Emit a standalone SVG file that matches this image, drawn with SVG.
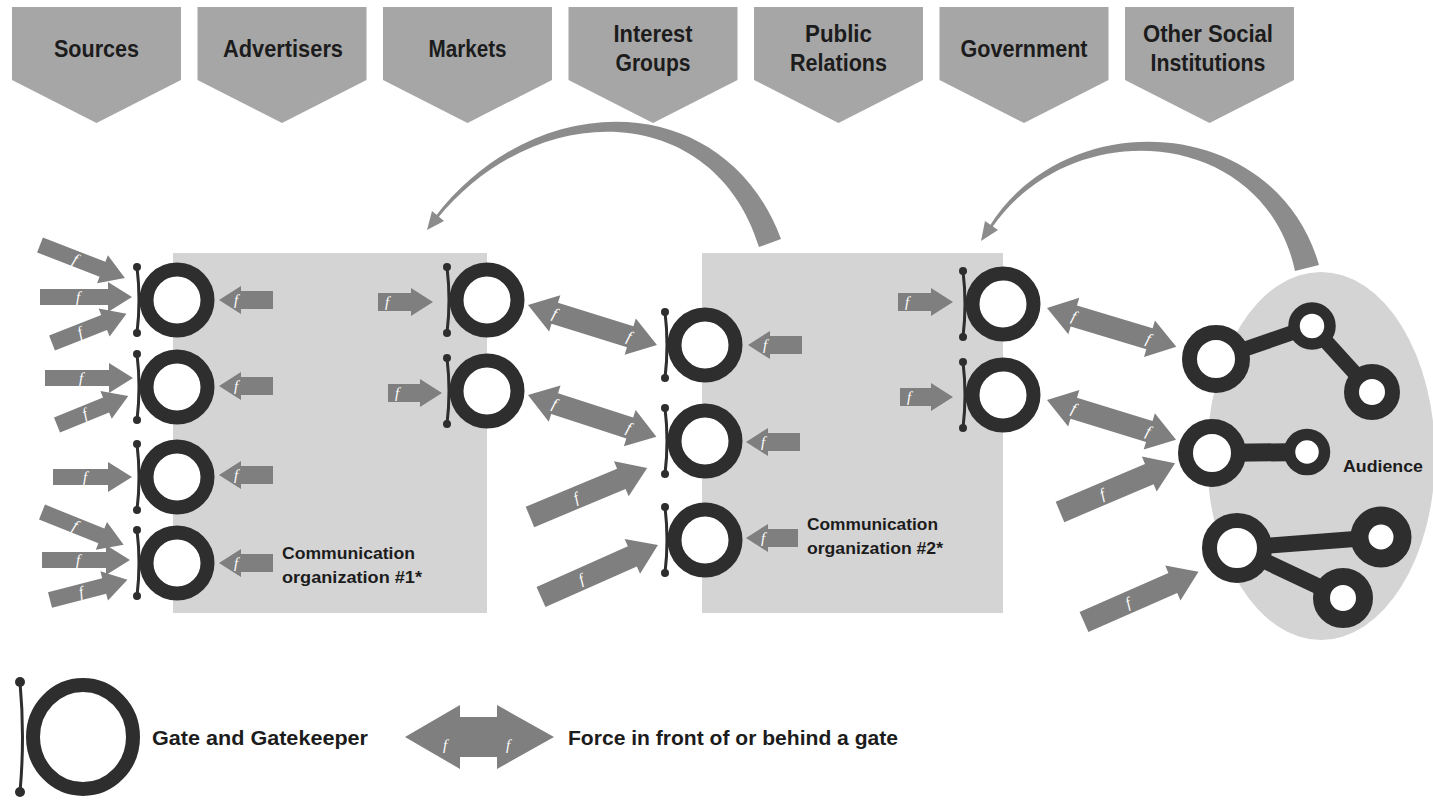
<svg xmlns="http://www.w3.org/2000/svg" width="1433" height="800" viewBox="0 0 1433 800">
  <style>
    .banner { fill: #a6a6a6; }
    .btxt { font-family: "Liberation Sans", Arial, sans-serif; font-weight: bold; font-size: 23px; fill: #1c1c1c; text-anchor: middle; }
    .org { fill: #d4d4d4; }
    .arrow { fill: #7f7f7f; }
    .curve { fill: #8c8c8c; }
    .f { font-family: "Liberation Serif", serif; font-style: italic; font-size: 15px; fill: #ffffff; text-anchor: middle; }
    .ring { fill: #ffffff; stroke: #2e2e2e; stroke-width: 14; }
    .bracket { fill: none; stroke: #2e2e2e; stroke-width: 3; }
    .dot { fill: #2e2e2e; }
    .link { fill: none; stroke: #2e2e2e; stroke-linecap: round; }
    .node { fill: #ffffff; stroke: #2e2e2e; }
    .lbl { font-family: "Liberation Sans", Arial, sans-serif; font-weight: bold; font-size: 17px; fill: #1c1c1c; }
    .legend { font-family: "Liberation Sans", Arial, sans-serif; font-weight: bold; font-size: 21px; fill: #1c1c1c; }
  </style>

  <!-- outside forces: pentagon banners -->
  <g id="banner-sources">
    <path class="banner" d="M12,7H181V80L96.5,123L12,80Z"/>
    <text class="btxt" x="96.5" y="57" textLength="85" lengthAdjust="spacingAndGlyphs">Sources</text>
  </g>
  <g id="banner-advertisers">
    <path class="banner" d="M197.5,7H366.5V80L282,123L197.5,80Z"/>
    <text class="btxt" x="283" y="57" textLength="120" lengthAdjust="spacingAndGlyphs">Advertisers</text>
  </g>
  <g id="banner-markets">
    <path class="banner" d="M383,7H552V80L467.5,123L383,80Z"/>
    <text class="btxt" x="467.5" y="57" textLength="78" lengthAdjust="spacingAndGlyphs">Markets</text>
  </g>
  <g id="banner-interest-groups">
    <path class="banner" d="M568.5,7H737.5V80L653,123L568.5,80Z"/>
    <text class="btxt" x="653" y="42" textLength="79" lengthAdjust="spacingAndGlyphs">Interest</text>
    <text class="btxt" x="653" y="71" textLength="75" lengthAdjust="spacingAndGlyphs">Groups</text>
  </g>
  <g id="banner-public-relations">
    <path class="banner" d="M754,7H923V80L838.5,123L754,80Z"/>
    <text class="btxt" x="838.5" y="42" textLength="67" lengthAdjust="spacingAndGlyphs">Public</text>
    <text class="btxt" x="838.5" y="71" textLength="97" lengthAdjust="spacingAndGlyphs">Relations</text>
  </g>
  <g id="banner-government">
    <path class="banner" d="M939.5,7H1108.5V80L1024,123L939.5,80Z"/>
    <text class="btxt" x="1024" y="57" textLength="127" lengthAdjust="spacingAndGlyphs">Government</text>
  </g>
  <g id="banner-other">
    <path class="banner" d="M1125,7H1294V80L1209.5,123L1125,80Z"/>
    <text class="btxt" x="1208" y="42" textLength="130" lengthAdjust="spacingAndGlyphs">Other Social</text>
    <text class="btxt" x="1208" y="71" textLength="115" lengthAdjust="spacingAndGlyphs">Institutions</text>
  </g>

  <!-- organisations and audience backgrounds -->
  <g id="org-1">
    <rect class="org" x="173" y="253" width="314" height="360"/>
    <text class="lbl" x="282" y="559" textLength="133" lengthAdjust="spacingAndGlyphs">Communication</text>
    <text class="lbl" x="282" y="583" textLength="140" lengthAdjust="spacingAndGlyphs">organization #1*</text>
  </g>
  <g id="org-2">
    <rect class="org" x="702" y="253" width="301" height="360"/>
    <text class="lbl" x="807" y="530" textLength="131" lengthAdjust="spacingAndGlyphs">Communication</text>
    <text class="lbl" x="807" y="554" textLength="136" lengthAdjust="spacingAndGlyphs">organization #2*</text>
  </g>
  <g id="audience-area">
    <ellipse class="org" cx="1321" cy="456" rx="114" ry="184"/>
  </g>

  <!-- connectors: feedback curves and forces -->
  <g id="connectors">
    <path class="curve" d="M781,239C725,88 536,85 435,217L437,219C538,95 715,102 759,247Z"/>
    <polygon class="curve" points="427,230 444,221 432,211"/>
    <path class="curve" d="M1319,265C1276,114 1066,102 989,227L991,229C1070,112 1264,126 1295,271Z"/>
    <polygon class="curve" points="981,241 998,230 985,221"/>

    <!-- forces in front of the first gates -->
    <g transform="translate(40,245) rotate(21.2)"><path class="arrow" d="M0,-8H67V-15L91,0L67,15V8H0Z"/><text class="f" x="38" y="5">f</text></g>
    <g transform="translate(40,297)"><path class="arrow" d="M0,-8H68V-15L92,0L68,15V8H0Z"/><text class="f" x="38" y="5">f</text></g>
    <g transform="translate(52,343) rotate(-21.4)"><path class="arrow" d="M0,-8H56V-15L80,0L56,15V8H0Z"/><text class="f" x="30" y="5">f</text></g>
    <g transform="translate(45,378)"><path class="arrow" d="M0,-8H64V-15L88,0L64,15V8H0Z"/><text class="f" x="36" y="5">f</text></g>
    <g transform="translate(57,425) rotate(-22.2)"><path class="arrow" d="M0,-8H53V-15L77,0L53,15V8H0Z"/><text class="f" x="30" y="5">f</text></g>
    <g transform="translate(53,477)"><path class="arrow" d="M0,-8H55V-15L79,0L55,15V8H0Z"/><text class="f" x="32" y="5">f</text></g>
    <g transform="translate(42,512) rotate(21.9)"><path class="arrow" d="M0,-8H64V-15L88,0L64,15V8H0Z"/><text class="f" x="36" y="5">f</text></g>
    <g transform="translate(42,560)"><path class="arrow" d="M0,-8H64V-15L88,0L64,15V8H0Z"/><text class="f" x="36" y="5">f</text></g>
    <g transform="translate(50,600) rotate(-14.6)"><path class="arrow" d="M0,-8H56V-15L80,0L56,15V8H0Z"/><text class="f" x="32" y="5">f</text></g>

    <!-- forces behind the first gates -->
    <path class="arrow" d="M273,291H241V286L219,300L241,314V309H273Z"/><text class="f" x="236" y="305">f</text>
    <path class="arrow" d="M273,377H241V372L219,386L241,400V395H273Z"/><text class="f" x="236" y="391">f</text>
    <path class="arrow" d="M273,466H241V461L219,475L241,489V484H273Z"/><text class="f" x="236" y="480">f</text>
    <path class="arrow" d="M273,554H241V549L219,563L241,577V572H273Z"/><text class="f" x="236" y="568">f</text>

    <!-- forces inside organisation 1 -->
    <path class="arrow" d="M378,293H411V288L433,302L411,316V311H378Z"/><text class="f" x="387" y="307">f</text>
    <path class="arrow" d="M388,384H420V379L442,393L420,407V402H388Z"/><text class="f" x="397" y="398">f</text>

    <!-- two-way forces between organisations -->
    <g transform="translate(528,305) rotate(17.2)"><path class="arrow" d="M0,0L28,-19V-11H107V-19L135,0L107,19V11H28V19Z"/><text class="f" x="28" y="5">f</text><text class="f" x="106" y="5">f</text></g>
    <g transform="translate(528,395) rotate(18)"><path class="arrow" d="M0,0L28,-19V-11H107V-19L135,0L107,19V11H28V19Z"/><text class="f" x="28" y="5">f</text><text class="f" x="106" y="5">f</text></g>

    <!-- forces in front of the second organisation -->
    <g transform="translate(530,517) rotate(-22.7)"><path class="arrow" d="M0,-11H99V-19L127,0L99,19V11H0Z"/><text class="f" x="50" y="5">f</text></g>
    <g transform="translate(541,597) rotate(-24)"><path class="arrow" d="M0,-11H100V-19L128,0L100,19V11H0Z"/><text class="f" x="44" y="5">f</text></g>

    <!-- forces behind the middle gates -->
    <path class="arrow" d="M802,336H770V331L748,345L770,359V354H802Z"/><text class="f" x="765" y="350">f</text>
    <path class="arrow" d="M800,433H768V428L746,442L768,456V451H800Z"/><text class="f" x="763" y="447">f</text>
    <path class="arrow" d="M798,529H768V524L746,538L768,552V547H798Z"/><text class="f" x="763" y="543">f</text>

    <!-- forces inside organisation 2 -->
    <path class="arrow" d="M898,293H931V288L953,302L931,316V311H898Z"/><text class="f" x="907" y="307">f</text>
    <path class="arrow" d="M900,388H931V383L953,397L931,411V406H900Z"/><text class="f" x="909" y="402">f</text>

    <!-- two-way forces with the audience -->
    <g transform="translate(1047,308) rotate(16.7)"><path class="arrow" d="M0,0L28,-19V-11H107V-19L135,0L107,19V11H28V19Z"/><text class="f" x="28" y="5">f</text><text class="f" x="106" y="5">f</text></g>
    <g transform="translate(1047,400) rotate(17.1)"><path class="arrow" d="M0,0L28,-19V-11H107V-19L135,0L107,19V11H28V19Z"/><text class="f" x="28" y="5">f</text><text class="f" x="106" y="5">f</text></g>

    <!-- forces in front of the audience -->
    <g transform="translate(1060,512) rotate(-23)"><path class="arrow" d="M0,-11H97V-19L125,0L97,19V11H0Z"/><text class="f" x="46" y="5">f</text></g>
    <g transform="translate(1084,622) rotate(-23.7)"><path class="arrow" d="M0,-11H97V-19L125,0L97,19V11H0Z"/><text class="f" x="48" y="5">f</text></g>
  </g>

  <!-- gates of organisation 1 (entry) -->
  <g id="gate-1a"><path class="bracket" d="M137,267Q141,300 137,333"/><circle class="dot" cx="137" cy="267" r="4"/><circle class="dot" cx="137" cy="333" r="4"/><circle class="ring" cx="177" cy="300" r="30.5"/></g>
  <g id="gate-1b"><path class="bracket" d="M137,354Q141,387 137,420"/><circle class="dot" cx="137" cy="354" r="4"/><circle class="dot" cx="137" cy="420" r="4"/><circle class="ring" cx="177" cy="387" r="30.5"/></g>
  <g id="gate-1c"><path class="bracket" d="M137,444Q141,477 137,510"/><circle class="dot" cx="137" cy="444" r="4"/><circle class="dot" cx="137" cy="510" r="4"/><circle class="ring" cx="177" cy="477" r="30.5"/></g>
  <g id="gate-1d"><path class="bracket" d="M137,530Q141,563 137,596"/><circle class="dot" cx="137" cy="530" r="4"/><circle class="dot" cx="137" cy="596" r="4"/><circle class="ring" cx="177" cy="563" r="30.5"/></g>

  <!-- gates of organisation 1 (exit) -->
  <g id="gate-1e"><path class="bracket" d="M447,267Q451,300 447,333"/><circle class="dot" cx="447" cy="267" r="4"/><circle class="dot" cx="447" cy="333" r="4"/><circle class="ring" cx="487" cy="300" r="30.5"/></g>
  <g id="gate-1f"><path class="bracket" d="M447,358Q451,391 447,424"/><circle class="dot" cx="447" cy="358" r="4"/><circle class="dot" cx="447" cy="424" r="4"/><circle class="ring" cx="487" cy="391" r="30.5"/></g>

  <!-- gates of organisation 2 (entry) -->
  <g id="gate-2a"><path class="bracket" d="M665,312Q669,345 665,378"/><circle class="dot" cx="665" cy="312" r="4"/><circle class="dot" cx="665" cy="378" r="4"/><circle class="ring" cx="705" cy="345" r="30.5"/></g>
  <g id="gate-2b"><path class="bracket" d="M665,408Q669,441 665,474"/><circle class="dot" cx="665" cy="408" r="4"/><circle class="dot" cx="665" cy="474" r="4"/><circle class="ring" cx="705" cy="441" r="30.5"/></g>
  <g id="gate-2c"><path class="bracket" d="M665,507Q669,540 665,573"/><circle class="dot" cx="665" cy="507" r="4"/><circle class="dot" cx="665" cy="573" r="4"/><circle class="ring" cx="705" cy="540" r="30.5"/></g>

  <!-- gates of organisation 2 (exit) -->
  <g id="gate-2d"><path class="bracket" d="M963,271Q967,304 963,337"/><circle class="dot" cx="963" cy="271" r="4"/><circle class="dot" cx="963" cy="337" r="4"/><circle class="ring" cx="1003" cy="304" r="30.5"/></g>
  <g id="gate-2e"><path class="bracket" d="M963,362Q967,395 963,428"/><circle class="dot" cx="963" cy="362" r="4"/><circle class="dot" cx="963" cy="428" r="4"/><circle class="ring" cx="1003" cy="395" r="30.5"/></g>

  <!-- audience members and their ties -->
  <g id="audience">
    <path class="link" stroke-width="15" d="M1216,359L1312,326L1372,392"/>
    <path class="link" stroke-width="18" d="M1212,453L1307,452"/>
    <path class="link" stroke-width="16" d="M1381,537L1237,548L1343,598"/>
    <circle class="node" stroke-width="15" cx="1216" cy="359" r="26.5"/>
    <circle class="node" stroke-width="11.5" cx="1312" cy="326" r="18"/>
    <circle class="node" stroke-width="15" cx="1372" cy="392" r="20.5"/>
    <circle class="node" stroke-width="15" cx="1212" cy="453" r="26.5"/>
    <circle class="node" stroke-width="11.5" cx="1307" cy="452" r="17.5"/>
    <circle class="node" stroke-width="15" cx="1237" cy="548" r="27.5"/>
    <circle class="node" stroke-width="18" cx="1381" cy="537" r="21.5"/>
    <circle class="node" stroke-width="17" cx="1343" cy="598" r="21.5"/>
    <text class="lbl" x="1343" y="472" font-size="16" textLength="80" lengthAdjust="spacingAndGlyphs">Audience</text>
  </g>

  <!-- legend -->
  <g id="legend-gate">
    <path class="bracket" stroke-width="4" d="M20,682Q25,737 20,792"/>
    <circle class="dot" cx="20" cy="682" r="5"/>
    <circle class="dot" cx="20" cy="792" r="5"/>
    <ellipse class="ring" stroke-width="15" cx="83" cy="737" rx="50" ry="52"/>
    <text class="legend" x="152" y="745" textLength="216" lengthAdjust="spacingAndGlyphs">Gate and Gatekeeper</text>
  </g>
  <g id="legend-force">
    <path class="arrow" d="M405,737L460,705V717H497V705L554,737L497,769V757H460V769Z"/>
    <text class="f" x="445" y="750" font-size="34">f</text>
    <text class="f" x="508" y="750" font-size="34">f</text>
    <text class="legend" x="568" y="745" textLength="330" lengthAdjust="spacingAndGlyphs">Force in front of or behind a gate</text>
  </g>
</svg>
